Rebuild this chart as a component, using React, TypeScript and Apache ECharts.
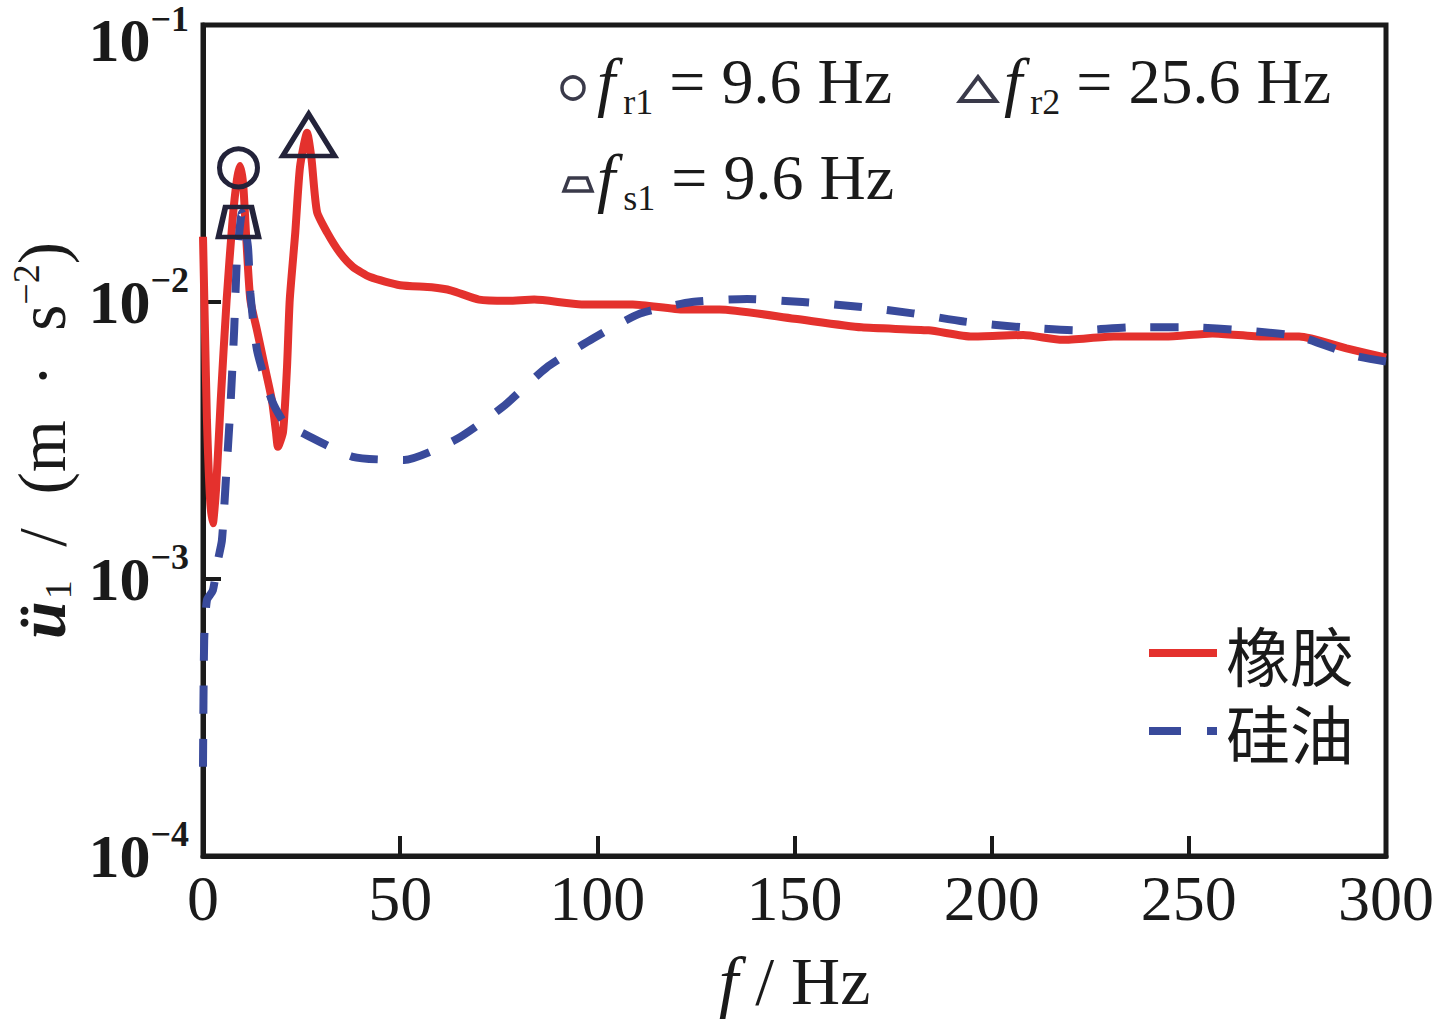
import React, { useEffect, useRef } from "react";
import * as echarts from "echarts";

// ---- data ----
const rubberFreq = [0, 0.5, 1, 1.8, 2.5, 3.3, 4.5, 6, 7.5, 8.6, 9.4, 10.2, 11, 12, 13.7, 15.7, 17.5, 18.5, 19, 20.3, 21.3, 22, 23.4, 24.6, 26.4, 27.5, 28.9, 31.5, 34.8, 38, 42.4, 50, 58, 63, 70, 77, 84, 96, 109, 122, 131, 150, 167, 184, 195, 208, 218, 231, 244, 256, 269, 278, 290, 300];
const rubberAcc = [0.0172, 0.0079, 0.00375, 0.00193, 0.00159, 0.0021, 0.00443, 0.0102, 0.0198, 0.0276, 0.031, 0.0265, 0.0167, 0.0102, 0.0079, 0.0058, 0.0044, 0.0034, 0.003, 0.0034, 0.0058, 0.0102, 0.0178, 0.0307, 0.0408, 0.033, 0.0212, 0.0178, 0.015, 0.0134, 0.0123, 0.0115, 0.0113, 0.011, 0.0102, 0.0101, 0.0102, 0.0098, 0.0098, 0.0094, 0.0094, 0.0087, 0.0081, 0.0079, 0.0075, 0.0076, 0.0073, 0.0075, 0.0075, 0.0077, 0.0075, 0.0075, 0.0068, 0.0063];

const oilFreq = [0, 0.3, 1, 2.5, 3.8, 4.8, 5.8, 6.9, 7.9, 8.6, 9.9, 11.4, 12, 13.7, 17.5, 21, 24.6, 38, 51, 64, 76, 87, 99, 111, 124, 138, 152, 167, 180, 193, 208, 222, 236, 250, 264, 278, 292, 300];
const oilAcc = [0.00021, 0.0006, 0.00084, 0.00091, 0.00117, 0.00138, 0.00228, 0.00407, 0.0079, 0.0142, 0.021, 0.0158, 0.0108, 0.0067, 0.0044, 0.0036, 0.0034, 0.00276, 0.00269, 0.00318, 0.00418, 0.00578, 0.0074, 0.0091, 0.01, 0.01025, 0.01, 0.0096, 0.0091, 0.0085, 0.0081, 0.0079, 0.0081, 0.0081, 0.0079, 0.0075, 0.0064, 0.0061];

const seriesNames = ["橡胶", "硅油"];
const xTicks = [0, 50, 100, 150, 200, 250, 300];
const yTickExponents = [-4, -3, -2, -1];

// peak markers: [frequency, acceleration]
const peakCircle = [9.0, 0.0305];
const peakTriangle = [26.8, 0.0401];
const peakTrapezoid = [9.0, 0.01945];

// annotation texts
const annoR1 = ["f", "r1", " = 9.6 Hz"];
const annoR2 = ["f", "r2", " = 25.6 Hz"];
const annoS1 = ["f", "s1", " = 9.6 Hz"];

const BLACK = "#1a1a1a";
const MARK = "#23233a";
const RED = "#e4312d";
const BLUE = "#394a9b";
const SERIF = "Liberation Serif";
const CJK = "Noto Sans CJK SC";

const annoRich = {
  i: { fontFamily: SERIF, fontStyle: "italic", fontSize: 66, lineHeight: 78, fill: BLACK },
  s: { fontFamily: SERIF, fontSize: 36, verticalAlign: "bottom", padding: [0, 0, 0, 8], fill: BLACK },
  n: { fontFamily: SERIF, fontSize: 64, fill: BLACK },
};

function annoText(parts: string[], x: number, y: number) {
  return {
    type: "text",
    x,
    y,
    silent: true,
    style: {
      text: `{i|${parts[0]}}{s|${parts[1]}}{n|${parts[2]}}`,
      rich: annoRich,
      verticalAlign: "middle",
      align: "left",
      fill: BLACK,
    },
  };
}

export default function App() {
  const ref = useRef<HTMLDivElement>(null);

  useEffect(() => {
    if (!ref.current) return;
    const chart = echarts.init(ref.current, undefined, { renderer: "svg" });

    const rubber = rubberFreq.map((f, i) => [f, rubberAcc[i]]);
    const oil = oilFreq.map((f, i) => [f, oilAcc[i]]);

    const option: any = {
      animation: false,
      backgroundColor: "#ffffff",
      grid: {
        left: 203,
        right: 53,
        top: 25,
        bottom: 163,
        containLabel: false,
        outerBoundsMode: "none",
        show: true,
        borderColor: BLACK,
        borderWidth: 5,
        backgroundColor: "transparent",
      },
      legend: {
        data: [
          { name: seriesNames[0] },
          { name: seriesNames[1], lineStyle: { type: [32, 26], width: 8 } },
        ],
        orient: "vertical",
        left: 1145,
        top: 621,
        padding: 0,
        itemWidth: 68,
        itemHeight: 14,
        itemGap: 14,
        itemStyle: { opacity: 0 },
        lineStyle: { width: 8 },
        textStyle: { fontSize: 64, lineHeight: 62, fontFamily: CJK, color: BLACK, padding: [0, 0, 0, 4] },
      },
      xAxis: {
        type: "value",
        min: 0,
        max: 300,
        interval: 50,
        name: "{i|f}{n| / Hz}",
        nameLocation: "middle",
        nameGap: 90,
        nameTextStyle: {
          rich: {
            i: { fontFamily: SERIF, fontStyle: "italic", fontSize: 70, color: BLACK },
            n: { fontFamily: SERIF, fontSize: 68, color: BLACK },
          },
        },
        axisLine: { show: true, onZero: false, lineStyle: { color: BLACK, width: 5 } },
        axisTick: { show: true, inside: true, length: 20, lineStyle: { color: BLACK, width: 4 } },
        splitLine: { show: false },
        axisLabel: {
          fontSize: 64,
          fontFamily: SERIF,
          color: BLACK,
          margin: 10,
          formatter: (v: number) => (xTicks.includes(v) ? String(v) : ""),
        },
      },
      yAxis: {
        type: "log",
        logBase: 10,
        min: 1e-4,
        max: 1e-1,
        name: "{u|ü}{b|1}{n|  /  (m  ·  s}{p|−2}{n|)}",
        nameLocation: "middle",
        nameRotate: 90,
        nameGap: 126,
        nameTextStyle: {
          rich: {
            u: { fontFamily: SERIF, fontStyle: "italic", fontWeight: "bold", fontSize: 68, lineHeight: 70, color: BLACK },
            b: { fontFamily: SERIF, fontSize: 38, verticalAlign: "bottom", padding: [0, 0, 0, 2], color: BLACK },
            n: { fontFamily: SERIF, fontSize: 67, color: BLACK },
            p: { fontFamily: SERIF, fontSize: 38, verticalAlign: "top", color: BLACK },
          },
        },
        axisLine: { show: true, lineStyle: { color: BLACK, width: 5 } },
        axisTick: { show: true, inside: true, length: 18, lineStyle: { color: BLACK, width: 4 } },
        splitLine: { show: false },
        axisLabel: {
          margin: 14,
          formatter: (v: number) => {
            const e = Math.round(Math.log10(v));
            if (!yTickExponents.includes(e)) return "";
            if (e === -1) return `{bt|10}{st|−1}`;
            return `{b|10}{s|−${Math.abs(e)}}`;
          },
          rich: {
            b: { fontFamily: SERIF, fontWeight: "bold", fontSize: 62, lineHeight: 80, color: BLACK },
            s: { fontFamily: SERIF, fontWeight: "bold", fontSize: 36, verticalAlign: "top", color: BLACK },
            bt: { fontFamily: SERIF, fontWeight: "bold", fontSize: 62, lineHeight: 72, padding: [30, 0, 0, 0], color: BLACK },
            st: { fontFamily: SERIF, fontWeight: "bold", fontSize: 36, verticalAlign: "top", padding: [12, 0, 0, 0], color: BLACK },
          },
        },
      },
      series: [
        {
          name: seriesNames[0],
          type: "line",
          data: rubber,
          symbol: "none",
          showSymbol: false,
          smooth: 0.2,
          z: 2,
          lineStyle: { color: RED, width: 8 },
          itemStyle: { color: RED },
        },
        {
          name: seriesNames[1],
          type: "line",
          data: oil,
          symbol: "none",
          showSymbol: false,
          smooth: 0.2,
          z: 3,
          lineStyle: { color: BLUE, width: 8, type: [28, 25] },
          itemStyle: { color: BLUE },
        },
        {
          name: "peaks",
          type: "scatter",
          silent: true,
          z: 5,
          itemStyle: { color: "rgba(0,0,0,0)", borderColor: MARK, borderWidth: 5, opacity: 1 },
          data: [
            { value: peakCircle, symbol: "circle", symbolSize: 38 },
            { value: peakTriangle, symbol: "triangle", symbolSize: [52, 42] },
            { value: peakTrapezoid, symbol: "path://M7,0L33,0L40,30L0,30Z", symbolSize: [40, 30] },
          ],
        },
      ],
      graphic: [
        {
          type: "circle",
          silent: true,
          shape: { cx: 573, cy: 88, r: 11 },
          style: { fill: "none", stroke: "#3a3a4a", lineWidth: 3.5 },
        },
        {
          type: "polygon",
          silent: true,
          shape: { points: [[960, 101], [996, 101], [978, 77]] },
          style: { fill: "none", stroke: "#3a3a4a", lineWidth: 4 },
        },
        {
          type: "polygon",
          silent: true,
          shape: { points: [[569, 178], [587, 178], [592, 191], [564, 191]] },
          style: { fill: "none", stroke: "#3a3a4a", lineWidth: 3.5 },
        },
        annoText(annoR1, 597, 81),
        annoText(annoR2, 1004, 81),
        annoText(annoS1, 597, 177),
      ],
    };

    chart.setOption(option);
    return () => chart.dispose();
  }, []);

  return (
    <div
      ref={ref}
      style={{ position: "absolute", left: 0, top: 0, width: 1439, height: 1019, background: "#fff" }}
    />
  );
}
